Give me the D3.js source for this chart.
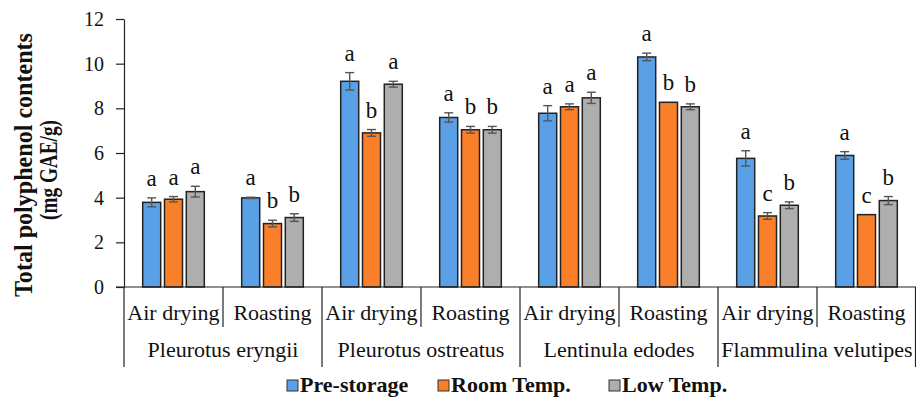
<!DOCTYPE html>
<html>
<head>
<meta charset="utf-8">
<script src="https://cdn.jsdelivr.net/npm/d3@7"></script>
</head>
<body style="margin:0;padding:0;background:#fff">
<svg id="chart" width="916" height="405" style="display:block"></svg>
<script>
// ---- data ----
const species = ["Pleurotus eryngii", "Pleurotus ostreatus", "Lentinula edodes", "Flammulina velutipes"];
const methods = ["Air drying", "Roasting"];
const seriesNames = ["Pre-storage", "Room Temp.", "Low Temp."];

const preStorage = [3.79, 3.99, 9.21, 7.59, 7.78, 10.30, 5.76, 5.89];
const roomTemp   = [3.93, 2.84, 6.90, 7.04, 8.07, 8.27, 3.18, 3.24];
const lowTemp    = [4.27, 3.11, 9.08, 7.04, 8.47, 8.07, 3.66, 3.87];

const preStorageErr = [0.20, 0.03, 0.39, 0.21, 0.34, 0.17, 0.34, 0.17];
const roomTempErr   = [0.12, 0.15, 0.15, 0.15, 0.13, 0.00, 0.15, 0.00];
const lowTempErr    = [0.24, 0.17, 0.13, 0.15, 0.25, 0.13, 0.15, 0.18];

const preStorageLetters = ["a", "a", "a", "a", "a", "a", "a", "a"];
const roomTempLetters   = ["a", "b", "b", "b", "a", "b", "c", "c"];
const lowTempLetters    = ["a", "b", "a", "b", "a", "b", "b", "b"];

const yTicks = [0, 2, 4, 6, 8, 10, 12];
const colors = ["#5AA0E6", "#FA7F2A", "#AEAEAE"];

// ---- build table ----
const categories = [];
species.forEach(s => methods.forEach(m => categories.push({ species: s, method: m, key: s + "|" + m })));
const seriesValues = [preStorage, roomTemp, lowTemp];
const seriesErrs = [preStorageErr, roomTempErr, lowTempErr];
const seriesLetters = [preStorageLetters, roomTempLetters, lowTempLetters];

const FONT = '"Liberation Serif"';
const svg = d3.select("#chart");

const x0 = d3.scaleBand().domain(categories.map(c => c.key)).range([124, 916]).padding(0);
const bw = x0.bandwidth();
const groupW = 65.4;
const x1 = d3.scaleBand().domain(seriesNames).range([0, groupW]).paddingInner(0.174).paddingOuter(0.087);
const y = d3.scaleLinear().domain([0, 12]).range([287, 19]);

// ---- y axis ----
const yAxis = d3.axisLeft(y).tickValues(yTicks).tickSize(8).tickPadding(12).tickSizeOuter(0);
const gy = svg.append("g").attr("transform", "translate(124,0)").call(yAxis);
gy.attr("font-family", null).attr("font-size", null);
gy.select(".domain").attr("stroke", "#222").attr("stroke-width", 1.2);
gy.selectAll(".tick line").attr("stroke", "#222").attr("stroke-width", 1.2);
gy.selectAll(".tick text").style("font-family", FONT).style("font-size", "20px").attr("fill", "#111");

// ---- bars ----
categories.forEach((c, i) => {
  const gx = x0(c.key) + bw / 2 - groupW / 2;
  seriesNames.forEach((s, j) => {
    const v = seriesValues[j][i];
    const e = seriesErrs[j][i];
    const bx = gx + x1(s);
    const w = x1.bandwidth();
    svg.append("rect")
      .attr("x", bx).attr("y", y(v))
      .attr("width", w).attr("height", y(0) - y(v))
      .attr("fill", colors[j]).attr("stroke", "#222").attr("stroke-width", 1.5);
    const cx = bx + w / 2;
    if (e > 0) {
      const eb = svg.append("g").attr("stroke", "#555").attr("stroke-width", 1.4);
      eb.append("line").attr("x1", cx).attr("x2", cx).attr("y1", y(v + e)).attr("y2", y(v - e));
      eb.append("line").attr("x1", cx - 4.5).attr("x2", cx + 4.5).attr("y1", y(v + e)).attr("y2", y(v + e));
      eb.append("line").attr("x1", cx - 4.5).attr("x2", cx + 4.5).attr("y1", y(v - e)).attr("y2", y(v - e));
    }
    svg.append("text")
      .attr("x", cx).attr("y", y(v + e) - 12)
      .attr("text-anchor", "middle")
      .style("font-family", FONT).style("font-size", "23px").attr("fill", "#111")
      .text(seriesLetters[j][i]);
  });
});

// ---- x axis (multi-level) ----
const axisG = svg.append("g").attr("stroke", "#222").attr("stroke-width", 1.2);
axisG.append("line").attr("x1", 116).attr("x2", 916).attr("y1", y(0)).attr("y2", y(0));
categories.forEach((c, i) => {
  const xl = x0(c.key);
  const isGroupStart = i % 2 === 0;
  axisG.append("line").attr("x1", xl).attr("x2", xl).attr("y1", y(0)).attr("y2", isGroupStart ? 367 : 327);
});
axisG.append("line").attr("x1", 915.5).attr("x2", 915.5).attr("y1", y(0)).attr("y2", 367);

svg.append("g").selectAll("text").data(categories).join("text")
  .attr("x", d => x0(d.key) + bw / 2).attr("y", 320)
  .attr("text-anchor", "middle")
  .style("font-family", FONT).style("font-size", "22px").attr("fill", "#111")
  .text(d => d.method);

svg.append("g").selectAll("text").data(species).join("text")
  .attr("x", s => x0(s + "|" + methods[0]) + bw)
  .attr("y", 357)
  .attr("text-anchor", "middle")
  .style("font-family", FONT).style("font-size", "22px").attr("fill", "#111")
  .text(s => s);

// ---- y title ----
svg.append("text")
  .attr("transform", "translate(32,165) rotate(-90)")
  .attr("text-anchor", "middle")
  .style("font-family", FONT).style("font-size", "26px").style("font-weight", "bold").attr("fill", "#111")
  .attr("textLength", 264).attr("lengthAdjust", "spacingAndGlyphs")
  .text("Total polyphenol  contents");
svg.append("text")
  .attr("transform", "translate(57,170) rotate(-90)")
  .attr("text-anchor", "middle")
  .style("font-family", FONT).style("font-size", "26px").style("font-weight", "bold").attr("fill", "#111")
  .attr("textLength", 100).attr("lengthAdjust", "spacingAndGlyphs")
  .text("(mg GAE/g)");

// ---- legend ----
const legendX = [287, 438, 609];
const leg = svg.append("g");
seriesNames.forEach((s, j) => {
  leg.append("rect").attr("x", legendX[j]).attr("y", 380).attr("width", 11).attr("height", 11)
    .attr("fill", colors[j]).attr("stroke", "#333").attr("stroke-width", 1);
  leg.append("text").attr("x", legendX[j] + 13).attr("y", 392)
    .style("font-family", FONT).style("font-size", "22px").style("font-weight", "bold").attr("fill", "#111")
    .text(s);
});
</script>
</body>
</html>
